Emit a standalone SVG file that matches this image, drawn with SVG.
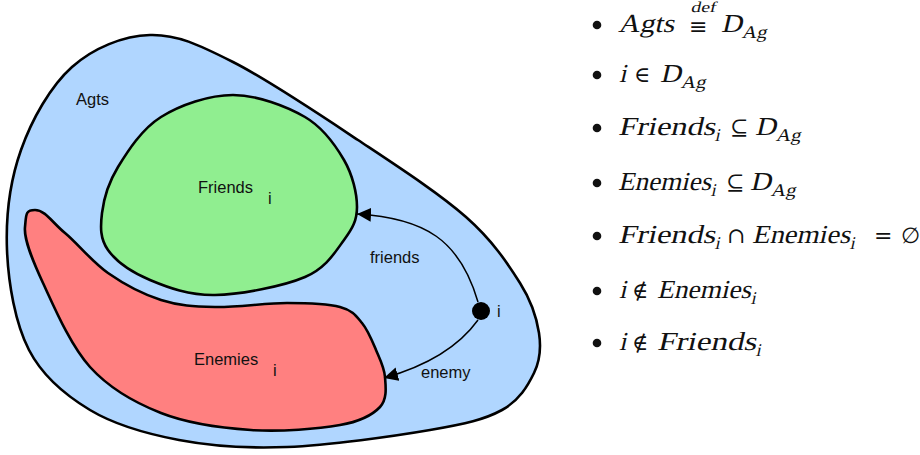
<svg xmlns="http://www.w3.org/2000/svg" width="920" height="455" viewBox="0 0 920 455">
<style>
.blob{stroke:#000;stroke-width:2.6;stroke-linejoin:round}
.lbl{font-family:"Liberation Sans",Arial,sans-serif;font-size:16.5px;fill:#111}
.conn{fill:none;stroke:#000;stroke-width:1.5}
.m{font-family:"Liberation Serif","DejaVu Serif",serif;font-size:26px;fill:#111}
.ms{font-family:"Liberation Serif","DejaVu Serif",serif;font-size:18px;fill:#111}
.md{font-family:"Liberation Serif","DejaVu Serif",serif;font-size:15px;fill:#111}
.sym{font-family:"DejaVu Serif","Liberation Serif",serif;font-size:22px;fill:#111}
.bul{fill:#111}
</style>
<defs>
<marker id="arr" viewBox="0 0 14 14" refX="14" refY="7" markerWidth="14" markerHeight="14" markerUnits="userSpaceOnUse" orient="auto">
<path d="M0,0 L14,7 L0,14 Z" fill="#000"/>
</marker>
</defs>
<rect width="920" height="455" fill="#fff"/>
<g id="agts">
<path class="blob" fill="#b0d6ff" d="M150,35 C176.8,34.2 198.3,44.5 233,62 C267.7,79.5 319.2,114.2 358,140 C396.8,165.8 439,193.2 466,217 C493,240.8 507.8,263.7 520,283 C532.2,302.3 536.7,318 539,333 C541.3,348 540.2,360.2 534,373 C527.8,385.8 519.3,400.5 502,410 C484.7,419.5 465.8,423.8 430,430 C394.2,436.2 328.8,445.3 287,447 C245.2,448.7 211.8,446.2 179,440 C146.2,433.8 115,425 90,410 C65,395 42.8,376.7 29,350 C15.2,323.3 8.3,283.3 7,250 C5.7,216.7 10.2,180.5 21,150 C31.8,119.5 50.5,86.2 72,67 C93.5,47.8 123.2,35.8 150,35 Z"/>
<text class="lbl" x="76" y="105">Agts</text>
</g>
<g id="friends">
<path class="blob" fill="#90ee90" d="M233,95 C257,95 286.5,106.2 305,117 C323.5,127.8 335.3,145 344,160 C352.7,175 357,193.7 357,207 C357,220.3 352.7,228.3 344,240 C335.3,251.7 326.5,267.8 305,277 C283.5,286.2 240.8,294.5 215,295 C189.2,295.5 167.8,287.5 150,280 C132.2,272.5 116,261.2 108,250 C100,238.8 100.3,226.8 102,213 C103.7,199.2 108.2,183 118,167 C127.8,151 141.8,129 161,117 C180.2,105 209,95 233,95 Z"/>
<text class="lbl" x="198" y="193">Friends</text>
<text class="lbl" x="268" y="204">i</text>
</g>
<g id="enemies">
<path class="blob" fill="#ff8080" d="M35,210 C45,210 52.3,222.5 65,233 C77.7,243.5 92,261.8 108,273 C124,284.2 143.2,294.3 161,300 C178.8,305.7 194,306.5 215,307 C236,307.5 266.2,303 287,303 C307.8,303 327.5,303.7 340,307 C352.5,310.3 356,315.8 362,323 C368,330.2 372.2,341 376,350 C379.8,359 384.3,367.5 385,377 C385.7,386.5 387.5,399 380,407 C372.5,415 361.5,421.2 340,425 C318.5,428.8 280.8,432 251,430 C221.2,428 187.8,423.5 161,413 C134.2,402.5 109.7,388.7 90,367 C70.3,345.3 53.8,306.3 43,283 C32.2,259.7 23.7,239.2 25,227 C26.3,214.8 25,210 35,210 Z"/>
<text class="lbl" x="194" y="365">Enemies</text>
<text class="lbl" x="273" y="376">i</text>
</g>
<g id="agent-i">
<circle cx="481" cy="311" r="9" fill="#000"/>
<text class="lbl" x="497" y="317">i</text>
</g>
<g id="connectors">
<path class="conn" marker-end="url(#arr)" d="M478,302 C460,240 425,218 357,214"/>
<path class="conn" marker-end="url(#arr)" d="M478,320 C460,345 430,365 384,378"/>
<text class="lbl" x="370" y="263">friends</text>
<text class="lbl" x="421" y="378">enemy</text>
</g>
<g id="legend">
<circle class="bul" cx="597" cy="25" r="4.3"/>
<circle class="bul" cx="597" cy="75" r="4.3"/>
<circle class="bul" cx="597" cy="128" r="4.3"/>
<circle class="bul" cx="597" cy="183" r="4.3"/>
<circle class="bul" cx="597" cy="236" r="4.3"/>
<circle class="bul" cx="597" cy="291" r="4.3"/>
<circle class="bul" cx="597" cy="343" r="4.3"/>

<g transform="translate(0,32) skewX(-13)">
<text class="m" x="618" y="0" textLength="56" lengthAdjust="spacingAndGlyphs">Agts</text>
<text class="md" x="686" y="-20" textLength="25" lengthAdjust="spacingAndGlyphs">def</text>
<text class="m" x="721" y="0" textLength="21" lengthAdjust="spacingAndGlyphs">D</text>
<text class="ms" x="743" y="6" textLength="25" lengthAdjust="spacingAndGlyphs">Ag</text>
</g>
<text class="sym" x="689" y="34" font-size="19">≡</text>

<g transform="translate(0,82) skewX(-13)">
<text class="m" x="619" y="0">i</text>
<text class="m" x="660" y="0" textLength="21" lengthAdjust="spacingAndGlyphs">D</text>
<text class="ms" x="682" y="6" textLength="25" lengthAdjust="spacingAndGlyphs">Ag</text>
</g>
<text class="sym" x="634" y="82">∈</text>

<g transform="translate(0,135) skewX(-13)">
<text class="m" x="618" y="0" textLength="97" lengthAdjust="spacingAndGlyphs">Friends</text>
<text class="ms" x="716" y="6">i</text>
<text class="m" x="755" y="0" textLength="21" lengthAdjust="spacingAndGlyphs">D</text>
<text class="ms" x="777" y="6" textLength="25" lengthAdjust="spacingAndGlyphs">Ag</text>
</g>
<text class="sym" x="730" y="135">⊆</text>

<g transform="translate(0,190) skewX(-13)">
<text class="m" x="618" y="0" textLength="93" lengthAdjust="spacingAndGlyphs">Enemies</text>
<text class="ms" x="712" y="6">i</text>
<text class="m" x="750" y="0" textLength="21" lengthAdjust="spacingAndGlyphs">D</text>
<text class="ms" x="772" y="6" textLength="25" lengthAdjust="spacingAndGlyphs">Ag</text>
</g>
<text class="sym" x="726" y="190">⊆</text>

<g transform="translate(0,243) skewX(-13)">
<text class="m" x="618" y="0" textLength="97" lengthAdjust="spacingAndGlyphs">Friends</text>
<text class="ms" x="716" y="6">i</text>
<text class="m" x="752" y="0" textLength="98" lengthAdjust="spacingAndGlyphs">Enemies</text>
<text class="ms" x="851" y="6">i</text>
</g>
<text class="sym" x="727" y="243">∩</text>
<text class="sym" x="874" y="243">=</text>
<text class="sym" x="901" y="243" font-size="18">∅</text>

<g transform="translate(0,298) skewX(-13)">
<text class="m" x="619" y="0">i</text>
<text class="m" x="657" y="0" textLength="94" lengthAdjust="spacingAndGlyphs">Enemies</text>
<text class="ms" x="752" y="6">i</text>
</g>
<text class="sym" x="632" y="298">∉</text>

<g transform="translate(0,350) skewX(-13)">
<text class="m" x="619" y="0">i</text>
<text class="m" x="657" y="0" textLength="99" lengthAdjust="spacingAndGlyphs">Friends</text>
<text class="ms" x="757" y="6">i</text>
</g>
<text class="sym" x="632" y="350">∉</text>
</g>
</svg>
